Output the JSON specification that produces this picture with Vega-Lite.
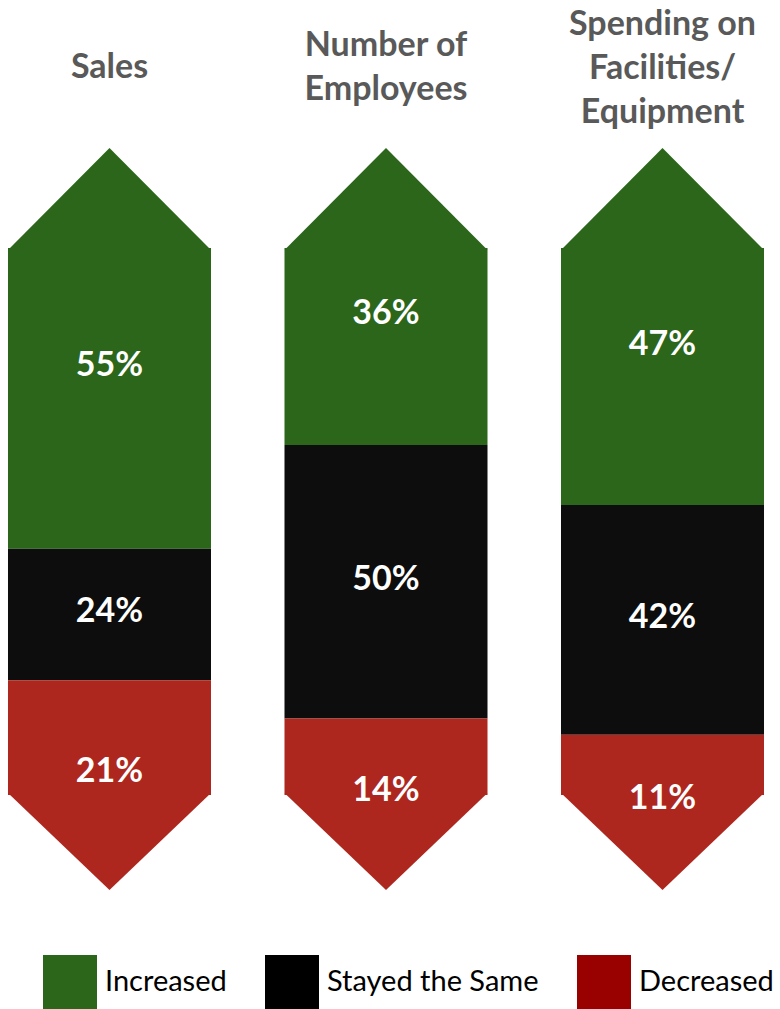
{
  "$schema": "https://vega.github.io/schema/vega-lite/v6.json",
  "width": 772,
  "height": 547,
  "autosize": {"type": "none"},
  "padding": {"left": 0, "top": 248, "right": 8, "bottom": 214},
  "background": "white",
  "config": {"view": {"stroke": null}, "font": "Lato"},
  "data": {
    "values": [
      {"metric": "Sales", "status": "Increased", "share": 0.55},
      {"metric": "Sales", "status": "Stayed the Same", "share": 0.24},
      {"metric": "Sales", "status": "Decreased", "share": 0.21},
      {"metric": "Number of Employees", "status": "Increased", "share": 0.36},
      {"metric": "Number of Employees", "status": "Stayed the Same", "share": 0.50},
      {"metric": "Number of Employees", "status": "Decreased", "share": 0.14},
      {"metric": "Spending on Facilities/ Equipment", "status": "Increased", "share": 0.47},
      {"metric": "Spending on Facilities/ Equipment", "status": "Stayed the Same", "share": 0.42},
      {"metric": "Spending on Facilities/ Equipment", "status": "Decreased", "share": 0.11}
    ]
  },
  "transform": [
    {"calculate": "indexof(['Increased','Stayed the Same','Decreased'], datum.status)", "as": "rank"},
    {"stack": "share", "groupby": ["metric"], "sort": [{"field": "rank", "order": "ascending"}], "as": ["s0", "s1"]},
    {"calculate": "(datum.s0 + datum.s1) / 2", "as": "smid"}
  ],
  "encoding": {
    "x": {
      "field": "metric",
      "type": "nominal",
      "sort": ["Sales", "Number of Employees", "Spending on Facilities/ Equipment"],
      "scale": {"paddingInner": 0.2658, "paddingOuter": 0.0289},
      "axis": {
        "orient": "top",
        "title": null,
        "domain": false,
        "ticks": false,
        "tickSize": 0,
        "labelPadding": {
          "condition": [
            {"test": "datum.value == 'Number of Employees'", "value": 203},
            {"test": "datum.value == 'Spending on Facilities/ Equipment'", "value": 224}
          ],
          "value": 181
        },
        "labelAngle": 0,
        "labelBaseline": "middle",
        "labelFont": "Lato",
        "labelFontWeight": "bold",
        "labelFontSize": 34,
        "labelColor": "#595959",
        "labelLineHeight": 44,
        "labelLimit": 0,
        "labelOverlap": false,
        "labelExpr": "datum.label == 'Number of Employees' ? ['Number of', 'Employees'] : datum.label == 'Spending on Facilities/ Equipment' ? ['Spending on', 'Facilities/', 'Equipment'] : datum.label"
      }
    }
  },
  "layer": [
    {
      "mark": {"type": "bar", "strokeWidth": 0},
      "encoding": {
        "y": {"field": "s0", "type": "quantitative", "scale": {"domain": [0, 1], "reverse": true, "nice": false}, "axis": null},
        "y2": {"field": "s1"},
        "color": {
          "field": "status",
          "type": "nominal",
          "scale": {"domain": ["Stayed the Same", "Increased", "Decreased"], "range": ["#0D0D0D", "#2B661B", "#AE271E"]},
          "legend": null
        }
      }
    },
    {
      "transform": [{"filter": "datum.status == 'Increased'"}],
      "mark": {"type": "point", "shape": "M-1,0.02L0,-0.985L1,0.02Z", "size": 41209, "filled": true, "opacity": 1, "strokeWidth": 0},
      "encoding": {
        "y": {"datum": 0, "type": "quantitative"},
        "color": {"field": "status", "type": "nominal", "legend": null}
      }
    },
    {
      "transform": [{"filter": "datum.status == 'Decreased'"}],
      "mark": {"type": "point", "shape": "M-1,-0.02L0,0.935L1,-0.02Z", "size": 41209, "filled": true, "opacity": 1, "strokeWidth": 0},
      "encoding": {
        "y": {"datum": 1, "type": "quantitative"},
        "color": {"field": "status", "type": "nominal", "legend": null}
      }
    },
    {
      "transform": [{"filter": "datum.status == 'Increased'"}],
      "mark": {"type": "text", "font": "Lato", "fontWeight": "bold", "fontSize": 34, "color": "white", "baseline": "middle", "dy": -32},
      "encoding": {
        "y": {"field": "smid", "type": "quantitative"},
        "text": {"field": "share", "type": "quantitative", "format": ".0%"}
      }
    },
    {
      "transform": [{"filter": "datum.status == 'Stayed the Same'"}],
      "mark": {"type": "text", "font": "Lato", "fontWeight": "bold", "fontSize": 34, "color": "white", "baseline": "middle", "dy": -2},
      "encoding": {
        "y": {"field": "smid", "type": "quantitative"},
        "text": {"field": "share", "type": "quantitative", "format": ".0%"}
      }
    },
    {
      "transform": [{"filter": "datum.status == 'Decreased'"}],
      "mark": {"type": "text", "font": "Lato", "fontWeight": "bold", "fontSize": 34, "color": "white", "baseline": "middle", "dy": 34},
      "encoding": {
        "y": {"field": "smid", "type": "quantitative"},
        "text": {"field": "share", "type": "quantitative", "format": ".0%"}
      }
    },
    {
      "mark": {"type": "square", "filled": true, "size": 0, "opacity": 1},
      "encoding": {
        "y": {"datum": 0.5, "type": "quantitative"},
        "fill": {
          "field": "status",
          "type": "nominal",
          "scale": {"domain": ["Increased", "Stayed the Same", "Decreased"], "range": ["#2B661B", "#000000", "#990000"]},
          "legend": {
            "orient": "none",
            "legendX": 43,
            "legendY": 707,
            "direction": "horizontal",
            "title": null,
            "symbolType": "square",
            "symbolSize": 2916,
            "symbolOpacity": 1,
            "symbolStrokeWidth": 0,
            "labelFont": "Lato",
            "labelFontSize": 29,
            "labelColor": "#000000",
            "labelOffset": 8,
            "labelLimit": 400,
            "columnPadding": 38,
            "padding": 0
          }
        }
      }
    }
  ]
}
